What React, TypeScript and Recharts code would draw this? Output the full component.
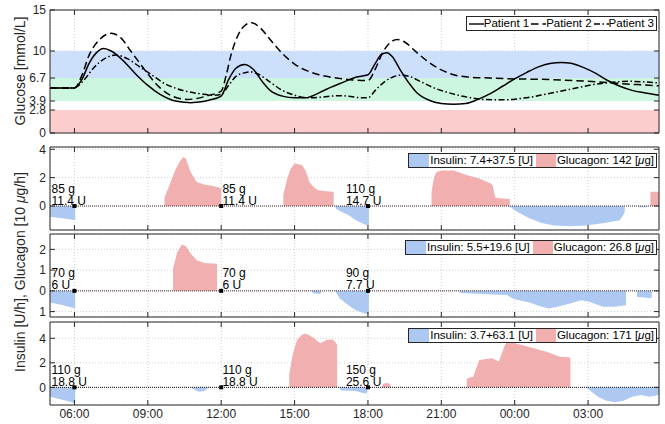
import React from 'react';
import {
  ComposedChart, Line, Area, Scatter, XAxis, YAxis, CartesianGrid,
  ReferenceArea, ReferenceLine, Legend,
} from 'recharts';

// ---------------- data ----------------
const timeDomain: [number, number] = [5, 29.9];
const timeTicks = [6, 9, 12, 15, 18, 21, 24, 27];
const glucoseTicks = [0, 2.8, 3.9, 6.7, 10, 15];
const bandLimits = [0, 2.8, 3.9, 6.7, 10];
const patientNames = ['Patient 1', 'Patient 2', 'Patient 3'];

const patient1Glucose = [
  [5, 5.5], [6, 5.5], [6.3, 6.5], [6.6, 8.5], [6.9, 9.8], [7.2, 10.3], [7.5, 10.0], [8.0, 8.8],
  [8.5, 7.2], [9.0, 5.8], [9.5, 4.7], [10.0, 4.0], [10.5, 3.75], [10.75, 3.7], [11.0, 3.75],
  [11.5, 4.0], [12.0, 4.5], [12.3, 6.5], [12.6, 7.9], [12.95, 8.35], [13.3, 7.8], [13.7, 6.2],
  [14.0, 5.2], [14.5, 4.5], [15.0, 4.3], [15.45, 4.3], [16.0, 4.9], [16.5, 5.6], [17.0, 6.2],
  [17.5, 6.8], [18.0, 7.1], [18.3, 8.5], [18.55, 9.6], [18.77, 9.8], [19.0, 9.3], [19.3, 7.8],
  [19.7, 6.0], [20.0, 4.9], [20.5, 4.0], [21.0, 3.6], [21.5, 3.5], [22.0, 3.6], [22.5, 4.1],
  [23.0, 4.8], [23.5, 5.7], [24.0, 6.6], [24.5, 7.4], [25.0, 8.1], [25.5, 8.5], [25.9, 8.6],
  [26.3, 8.5], [26.8, 8.0], [27.3, 7.3], [27.8, 6.4], [28.3, 5.7], [28.8, 5.2], [29.3, 4.9], [29.9, 4.6],
];
const patient2Glucose = [
  [5, 5.5], [6, 5.5], [6.3, 7.0], [6.6, 9.5], [7.0, 11.3], [7.5, 12.15], [7.9, 11.6], [8.3, 10.0],
  [8.7, 8.4], [9.0, 7.2], [9.5, 5.5], [10.0, 4.5], [10.6, 4.1], [11.0, 4.2], [11.5, 4.6], [12.0, 5.1],
  [12.2, 7.0], [12.4, 9.5], [12.7, 12.0], [13.0, 13.2], [13.25, 13.45], [13.6, 12.8], [14.0, 11.4],
  [14.5, 9.7], [15.0, 8.4], [15.5, 7.6], [16.0, 7.1], [16.5, 6.8], [17.0, 6.6], [17.5, 6.45],
  [18.0, 6.4], [18.3, 7.8], [18.6, 9.8], [18.9, 11.0], [19.2, 11.4], [19.5, 11.1], [20.0, 9.8],
  [20.5, 8.6], [21.0, 7.7], [21.5, 7.1], [22.0, 6.85], [23.0, 6.7], [24.0, 6.6], [25.0, 6.55],
  [26.0, 6.45], [27.0, 6.3], [28.0, 6.1], [29.0, 5.9], [29.9, 5.75],
];
const patient3Glucose = [
  [5, 5.5], [6, 5.5], [6.4, 6.5], [6.8, 8.0], [7.2, 9.0], [7.7, 9.5], [8.2, 9.0], [8.7, 8.0],
  [9.2, 7.0], [9.7, 6.0], [10.2, 5.4], [10.7, 5.0], [11.2, 4.75], [11.7, 4.6], [12.0, 4.7],
  [12.3, 5.8], [12.6, 6.9], [12.9, 7.3], [13.2, 7.45], [13.5, 7.2], [14.0, 6.2], [14.5, 5.2],
  [15.0, 4.6], [15.5, 4.3], [16.0, 4.35], [16.5, 4.5], [16.9, 4.55], [17.3, 4.45], [17.7, 4.3],
  [18.0, 4.3], [18.3, 5.2], [18.7, 6.3], [19.0, 6.8], [19.35, 7.05], [19.7, 6.9], [20.2, 6.2],
  [20.7, 5.5], [21.2, 5.0], [21.7, 4.6], [22.2, 4.3], [22.7, 4.1], [23.2, 4.05], [23.7, 4.05],
  [24.2, 4.2], [24.7, 4.4], [25.2, 4.7], [25.7, 5.0], [26.2, 5.3], [26.7, 5.6], [27.2, 5.9],
  [27.7, 6.1], [28.2, 6.25], [28.7, 6.3], [29.2, 6.25], [29.9, 6.1],
];

const patient1Glucagon = [
  [5, 0], [9.68, 0], [9.68, 0.6], [9.85, 1.3], [10.0, 2.0], [10.15, 2.64], [10.3, 3.1], [10.44, 3.46],
  [10.55, 3.35], [10.75, 2.4], [10.9, 1.95], [11.0, 1.7], [11.3, 1.52], [11.62, 1.43], [11.9, 1.3],
  [12.0, 1.24], [12.0, 0], [14.54, 0], [14.54, 0.8], [14.7, 1.94], [14.85, 2.64], [15.0, 3.0],
  [15.3, 2.9], [15.45, 2.5], [15.6, 1.7], [15.8, 1.3], [15.96, 1.12], [16.3, 1.05], [16.57, 1.0],
  [16.6, 0.95], [16.6, 0], [20.6, 0], [20.6, 1.0], [20.7, 2.0], [20.8, 2.4], [21.0, 2.5], [21.5, 2.5],
  [22.0, 2.2], [22.55, 1.94], [23.0, 1.6], [23.1, 1.45], [23.2, 0.6], [23.4, 0.54], [23.8, 0.5],
  [23.8, 0], [29.55, 0], [29.55, 1.0], [29.9, 1.0],
];
const patient1Insulin = [
  [5, -0.75], [5.5, -0.87], [6.0, -0.98], [6.03, -0.98], [6.03, 0], [16.65, 0], [16.7, -0.2],
  [16.85, -0.35], [17.2, -0.63], [17.5, -1.0], [17.87, -1.3], [18.04, -1.38], [18.04, 0], [23.77, 0],
  [24.0, -0.3], [24.3, -0.6], [24.6, -0.87], [25.1, -1.2], [25.6, -1.38], [26.3, -1.43], [26.9, -1.38],
  [27.6, -1.22], [28.3, -1.0], [28.45, -0.6], [28.5, -0.4], [28.5, 0], [29.05, 0], [29.05, -0.08],
  [29.4, -0.08], [29.4, 0], [29.9, 0],
];
const patient2Glucagon = [
  [5, 0], [10.03, 0], [10.03, 1.07], [10.2, 1.87], [10.4, 2.24], [10.55, 2.16], [10.75, 1.8],
  [11.0, 1.47], [11.3, 1.34], [11.8, 1.31], [11.83, 1.3], [11.83, 0], [29.9, 0],
];
const patient2Insulin = [
  [5, -0.56], [5.55, -0.69], [6.03, -0.85], [6.03, 0], [15.7, 0], [15.75, -0.12], [16.05, -0.15],
  [16.1, 0], [16.65, 0], [16.85, -0.37], [17.2, -0.69], [17.5, -0.93], [17.87, -1.09], [18.04, -1.14],
  [18.04, 0], [21.7, 0], [21.8, -0.1], [22.3, -0.13], [23.1, -0.18], [23.7, -0.2], [23.8, -0.3],
  [24.0, -0.4], [24.6, -0.56], [25.1, -0.77], [25.4, -0.85], [25.75, -0.77], [26.3, -0.6], [26.7, -0.45],
  [27.05, -0.53], [27.6, -0.77], [28.1, -0.77], [28.55, -0.69], [28.55, 0], [29.0, 0], [29.0, -0.3],
  [29.5, -0.34], [29.6, -0.34], [29.6, 0], [29.9, 0],
];
const patient3Glucagon = [
  [5, 0], [14.78, 0], [14.78, 1.0], [14.92, 2.64], [15.1, 3.86], [15.3, 4.3], [15.44, 4.4],
  [15.6, 4.25], [15.8, 4.0], [16.05, 3.6], [16.3, 3.86], [16.57, 3.9], [16.74, 3.5], [16.74, 0],
  [18.57, 0], [18.6, 0.25], [18.75, 0.35], [18.9, 0.3], [18.95, 0], [22.04, 0], [22.04, 0.73],
  [22.3, 0.87], [22.55, 2.23], [23.08, 2.37], [23.35, 2.1], [23.6, 3.46], [23.77, 3.86], [24.0, 3.6],
  [24.6, 3.3], [25.3, 2.9], [25.85, 2.5], [26.2, 2.45], [26.28, 2.4], [26.28, 0], [29.9, 0],
];
const patient3Insulin = [
  [5, -0.76], [5.55, -1.03], [6.03, -1.3], [6.03, 0], [10.75, 0], [10.9, -0.2], [11.1, -0.35],
  [11.3, -0.3], [11.45, -0.1], [11.5, 0], [16.83, 0], [16.9, -0.25], [17.2, -0.28], [17.5, -0.3],
  [17.7, -0.42], [17.96, -0.52], [17.96, 0], [26.9, 0], [27.05, -0.22], [27.4, -0.76], [27.76, -1.1],
  [28.1, -1.22], [28.45, -1.1], [28.8, -0.76], [29.15, -0.63], [29.5, -0.76], [29.9, -0.63],
];

const mealTimes = [6, 12, 18];
const mealLabelTimes = [5.06, 12.05, 17.1];
const patient1Carbs = ['85 g', '85 g', '110 g'];
const patient1Bolus = ['11.4 U', '11.4 U', '14.7 U'];
const patient2Carbs = ['70 g', '70 g', '90 g'];
const patient2Bolus = ['6 U', '6 U', '7.7 U'];
const patient3Carbs = ['110 g', '110 g', '150 g'];
const patient3Bolus = ['18.8 U', '18.8 U', '25.6 U'];
const insulinTotals = ['7.4+37.5', '5.5+19.6', '3.7+63.1'];
const glucagonTotals = ['142', '26.8', '171'];

const panelTicks = [[0, 2, 4], [-1, 0, 1, 2], [0, 2, 4]];
const panelDomains: [number, number][] = [[-1.69, 4.16], [-1.26, 2.74], [-1.44, 5.33]];

// ---------------- styles ----------------
const FONT = '"Liberation Sans", Arial, Helvetica, sans-serif';
const INK = '#262626';
const BLUE = '#aec9f1';
const RED = '#f2afaf';
const BAND_COLORS = ['#fdcccc', '#ffffff', '#cdf6e1', '#cce0fc'];
const DASHES = [undefined, '7.5 4', '6 2.5 1.5 2.5'];
const W = 665;

const toPts = (arr: number[][]) => arr.map(([t, v]) => ({ t, v }));
const fmtTime = (t: number) => `${String(Math.round(t) % 24).padStart(2, '0')}:00`;
const blank = () => '';

function frameAxes(yDomain: [number, number], yTicks: number[], yFmt: (v: number) => string, bottomLabels: boolean) {
  const tickStyle = { fill: INK, fontSize: 12, fontFamily: FONT };
  return [
    <XAxis key="xb" dataKey="t" type="number" domain={timeDomain} ticks={timeTicks} allowDataOverflow
      interval={0} tickSize={-5} tickMargin={9} height={bottomLabels ? 20 : 2}
      tickFormatter={bottomLabels ? fmtTime : blank}
      axisLine={{ stroke: INK }} tickLine={{ stroke: INK }} tick={tickStyle} />,
    <XAxis key="xt" xAxisId="top" orientation="top" dataKey="t" type="number" domain={timeDomain}
      ticks={timeTicks} allowDataOverflow interval={0} tickSize={-5} height={2} tickFormatter={blank}
      axisLine={{ stroke: INK }} tickLine={{ stroke: INK }} tick={tickStyle} />,
    <YAxis key="yl" type="number" domain={yDomain} ticks={yTicks} allowDataOverflow interval={0}
      width={30} tickSize={-5} tickMargin={9} tickFormatter={yFmt}
      axisLine={{ stroke: INK }} tickLine={{ stroke: INK }} tick={tickStyle} />,
    <YAxis key="yr" yAxisId="right" orientation="right" type="number" domain={yDomain} ticks={yTicks}
      allowDataOverflow interval={0} width={1} tickSize={-5} tickFormatter={blank}
      axisLine={{ stroke: INK }} tickLine={{ stroke: INK }} tick={tickStyle} />,
  ];
}

const legendBox: React.CSSProperties = {
  border: `1px solid ${INK}`, background: '#fff', display: 'flex', alignItems: 'center',
  height: 13, fontSize: 11.5, fontFamily: FONT, color: '#000', whiteSpace: 'nowrap',
  lineHeight: '13px', paddingRight: 2,
};
const legendWrap: React.CSSProperties = { top: 16, right: 8, left: 'auto', width: 'auto', height: 'auto' };

const GlucoseLegend = () => (
  <div style={{ ...legendBox, paddingLeft: 2 }}>
    {patientNames.map((n, i) => (
      <span key={n} style={{ display: 'inline-flex', alignItems: 'center', marginRight: i < 2 ? 2 : 0 }}>
        <svg width={15} height={6}>
          <line x1={0} x2={15} y1={3} y2={3} stroke="#000" strokeWidth={1.4} strokeDasharray={DASHES[i]} />
        </svg>
        <span>{n}</span>
      </span>
    ))}
  </div>
);

const DoseLegend = ({ idx }: { idx: number }) => (
  <div style={legendBox}>
    <span style={{ display: 'inline-block', width: 20, height: 13, background: BLUE, marginRight: 1 }} />
    <span>Insulin: {insulinTotals[idx]} [U]</span>
    <span style={{ display: 'inline-block', width: 20, height: 13, background: RED, margin: '0 1px 0 3px' }} />
    <span>Glucagon: {glucagonTotals[idx]} [<i>μ</i>g]</span>
  </div>
);

const MealSquare = (p: any) => (
  <rect x={p.cx - 2} y={p.cy - 2} width={4} height={4} fill="#000" />
);
const MealText = (p: any) => (
  <g fontFamily={FONT} fontSize={12} fill="#000">
    <text x={p.cx} y={p.cy - 13.5}>{p.payload.carbs}</text>
    <text x={p.cx} y={p.cy - 1.5}>{p.payload.bolus}</text>
  </g>
);

function GlucosePanel() {
  const series = [patient1Glucose, patient2Glucose, patient3Glucose];
  return (
    <ComposedChart width={W} height={145} margin={{ top: 8, right: 5, bottom: 10, left: 20 }}>
      {bandLimits.map((lo, i) => (
        <ReferenceArea key={i} y1={lo} y2={i < bandLimits.length - 1 ? bandLimits[i + 1] : lo}
          fill={BAND_COLORS[i]} fillOpacity={1} stroke="none" ifOverflow="hidden" />
      ))}
      <CartesianGrid stroke="#cfcfcf" strokeDasharray="1 2" />
      {frameAxes([0, 15], glucoseTicks, (v) => String(v), false)}
      {series.map((s, i) => (
        <Line key={i} data={toPts(s)} dataKey="v" type="monotone" stroke="#000" strokeWidth={1.5}
          strokeDasharray={DASHES[i]} dot={false} isAnimationActive={false} name={patientNames[i]} />
      ))}
      <Legend content={() => <GlucoseLegend />} layout="horizontal" verticalAlign="middle" align="center"
        wrapperStyle={legendWrap} />
    </ComposedChart>
  );
}

function DosePanel({ idx, glucagon, insulin, carbs, bolus, last }:
  { idx: number; glucagon: number[][]; insulin: number[][]; carbs: string[]; bolus: string[]; last: boolean }) {
  const meals = mealTimes.map((t) => ({ t, v: 0 }));
  const labels = mealLabelTimes.map((t, i) => ({ t, v: 0, carbs: carbs[i], bolus: bolus[i] }));
  const bottom = last ? 0 : 8;
  return (
    <ComposedChart width={W} height={(last ? 113 : 95) + bottom} margin={{ top: 8, right: 5, bottom, left: 20 }}>
      <CartesianGrid stroke="#cfcfcf" strokeDasharray="1 2" />
      {frameAxes(panelDomains[idx], panelTicks[idx], (v) => String(Math.abs(v)), last)}
      <Area data={toPts(glucagon)} dataKey="v" type="linear" fill={RED} fillOpacity={1} stroke="none"
        baseValue={0} isAnimationActive={false} />
      <Area data={toPts(insulin)} dataKey="v" type="linear" fill={BLUE} fillOpacity={1} stroke="none"
        baseValue={0} isAnimationActive={false} />
      <ReferenceLine y={0} stroke={idx < 2 ? '#4a2a2a' : '#111'} strokeDasharray="1 1" />
      <Scatter data={meals} dataKey="v" shape={MealSquare} isAnimationActive={false} />
      <Scatter data={labels} dataKey="v" shape={MealText} isAnimationActive={false} />
      <Legend content={() => <DoseLegend idx={idx} />} layout="horizontal" verticalAlign="middle" align="center"
        wrapperStyle={legendWrap} />
    </ComposedChart>
  );
}

export default function App() {
  return (
    <div style={{ position: 'absolute', left: 0, top: 0, width: W, height: 424, background: '#fff', overflow: 'hidden' }}>
      <div style={{ position: 'absolute', left: 0, top: 0 }}><GlucosePanel /></div>
      <div style={{ position: 'absolute', left: 0, top: 137 }}>
        <DosePanel idx={0} glucagon={patient1Glucagon} insulin={patient1Insulin} carbs={patient1Carbs} bolus={patient1Bolus} last={false} />
      </div>
      <div style={{ position: 'absolute', left: 0, top: 224 }}>
        <DosePanel idx={1} glucagon={patient2Glucagon} insulin={patient2Insulin} carbs={patient2Carbs} bolus={patient2Bolus} last={false} />
      </div>
      <div style={{ position: 'absolute', left: 0, top: 312 }}>
        <DosePanel idx={2} glucagon={patient3Glucagon} insulin={patient3Insulin} carbs={patient3Carbs} bolus={patient3Bolus} last />
      </div>
      <svg width={W} height={424} style={{ position: 'absolute', left: 0, top: 0, pointerEvents: 'none' }}>
        <text transform="translate(25,71) rotate(-90)" textAnchor="middle" fontFamily={FONT} fontSize={14} fill={INK}>
          Glucose [mmol/L]
        </text>
        <text transform="translate(25,272) rotate(-90)" textAnchor="middle" fontFamily={FONT} fontSize={14} fill={INK}>
          Insulin [U/h], Glucagon [10 <tspan fontStyle="italic">μ</tspan>g/h]
        </text>
      </svg>
    </div>
  );
}
